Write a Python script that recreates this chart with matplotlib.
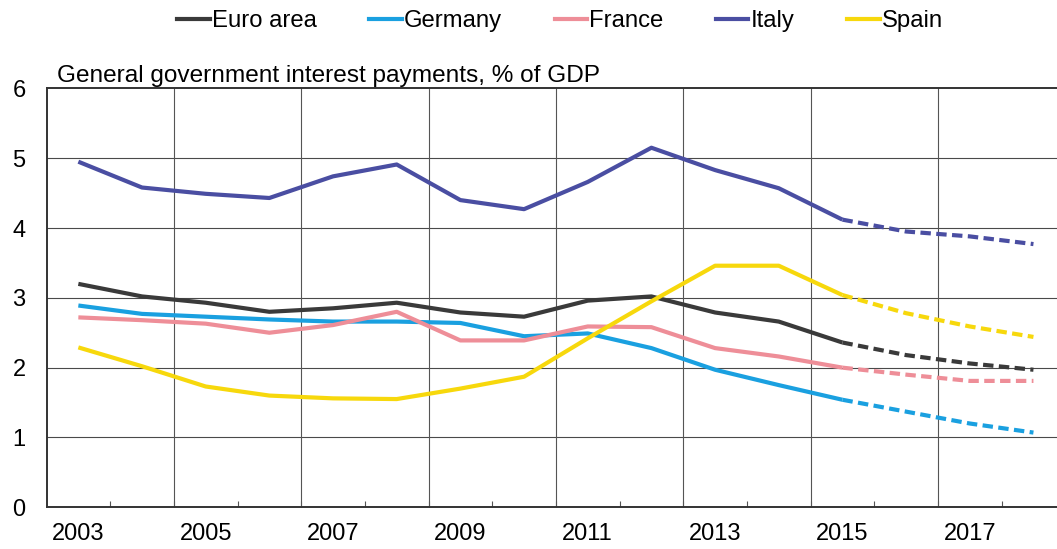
import numpy as np
import matplotlib
matplotlib.use("Agg")
import matplotlib.pyplot as plt
from matplotlib.lines import Line2D

plt.rcParams["font.family"] = ["Liberation Sans", "DejaVu Sans"]

years = list(range(2003, 2019))
last_actual = 2015  # solid up to here, dashed projections after

euro_area = [3.20, 3.02, 2.93, 2.80, 2.85, 2.93, 2.79, 2.73,
             2.96, 3.02, 2.79, 2.66, 2.36, 2.18, 2.06, 1.97]
germany = [2.89, 2.77, 2.73, 2.69, 2.66, 2.66, 2.64, 2.45,
           2.49, 2.28, 1.97, 1.75, 1.54, 1.37, 1.20, 1.07]
france = [2.72, 2.68, 2.63, 2.50, 2.61, 2.80, 2.39, 2.39,
          2.59, 2.58, 2.28, 2.16, 2.00, 1.90, 1.81, 1.81]
italy = [4.95, 4.58, 4.49, 4.43, 4.74, 4.91, 4.40, 4.27,
         4.66, 5.15, 4.83, 4.57, 4.12, 3.95, 3.88, 3.77]
spain = [2.29, 2.02, 1.73, 1.60, 1.56, 1.55, 1.70, 1.87,
         2.42, 2.95, 3.46, 3.46, 3.04, 2.78, 2.59, 2.44]

series_names = ["Euro area", "Germany", "France", "Italy", "Spain"]
series_values = [euro_area, germany, france, italy, spain]
colors = ["#3a3a3a", "#1aa0e0", "#ee8e98", "#4a4ea2", "#f7d80c"]

x_labels = [str(y) for y in range(2003, 2019, 2)]

fig = plt.figure(figsize=(10.57, 5.49), dpi=100)
ax = fig.add_axes([0.044, 0.076, 0.956, 0.763])

lw = 3.0
split = years.index(last_actual)
for name, vals, col in zip(series_names, series_values, colors):
    ax.plot(years[:split + 1], vals[:split + 1], color=col, lw=lw,
            solid_joinstyle="round", solid_capstyle="butt", zorder=3)
    ax.plot(years[split:], vals[split:], color=col, lw=lw,
            dashes=(2.5, 1.3), dash_capstyle="butt", zorder=3)

ax.set_xlim(2002.5, 2018.37)
ax.set_ylim(0, 6)

# gridlines: horizontal on integers, vertical between even/odd years
for yv in range(1, 6):
    ax.axhline(yv, color="#4a4a4a", lw=0.8, zorder=1)
for xv in np.arange(2004.5, 2018, 2):
    ax.axvline(xv, color="#555555", lw=0.8, zorder=1)

ax.set_xticks(range(2003, 2019, 2))
ax.set_xticklabels(x_labels, fontsize=17)
ax.set_xticks(np.arange(2003.5, 2018.5, 1), minor=True)
ax.tick_params(axis="x", which="major", length=0, pad=11)
ax.tick_params(axis="x", which="minor", direction="in", length=4,
               width=0.8, color="#555555")

ax.set_yticks(range(0, 7))
ax.set_yticklabels([str(v) for v in range(0, 7)], fontsize=17)
ax.tick_params(axis="y", length=0, pad=15)

for side in ["left", "bottom", "top"]:
    ax.spines[side].set_color("#333333")
    ax.spines[side].set_linewidth(1.4)
ax.spines["right"].set_visible(False)

ax.text(0.010, 1.003, "General government interest payments, % of GDP",
        transform=ax.transAxes, fontsize=17.6, ha="left", va="bottom")

handles = [Line2D([0], [0], color=c, lw=lw) for c in colors]
fig.legend(handles, series_names, loc="center", bbox_to_anchor=(0.530, 0.962),
           ncol=5, frameon=False, fontsize=17.2, handlelength=1.35,
           handletextpad=0.1, columnspacing=2.2)

fig.savefig("out.png", dpi=100)
